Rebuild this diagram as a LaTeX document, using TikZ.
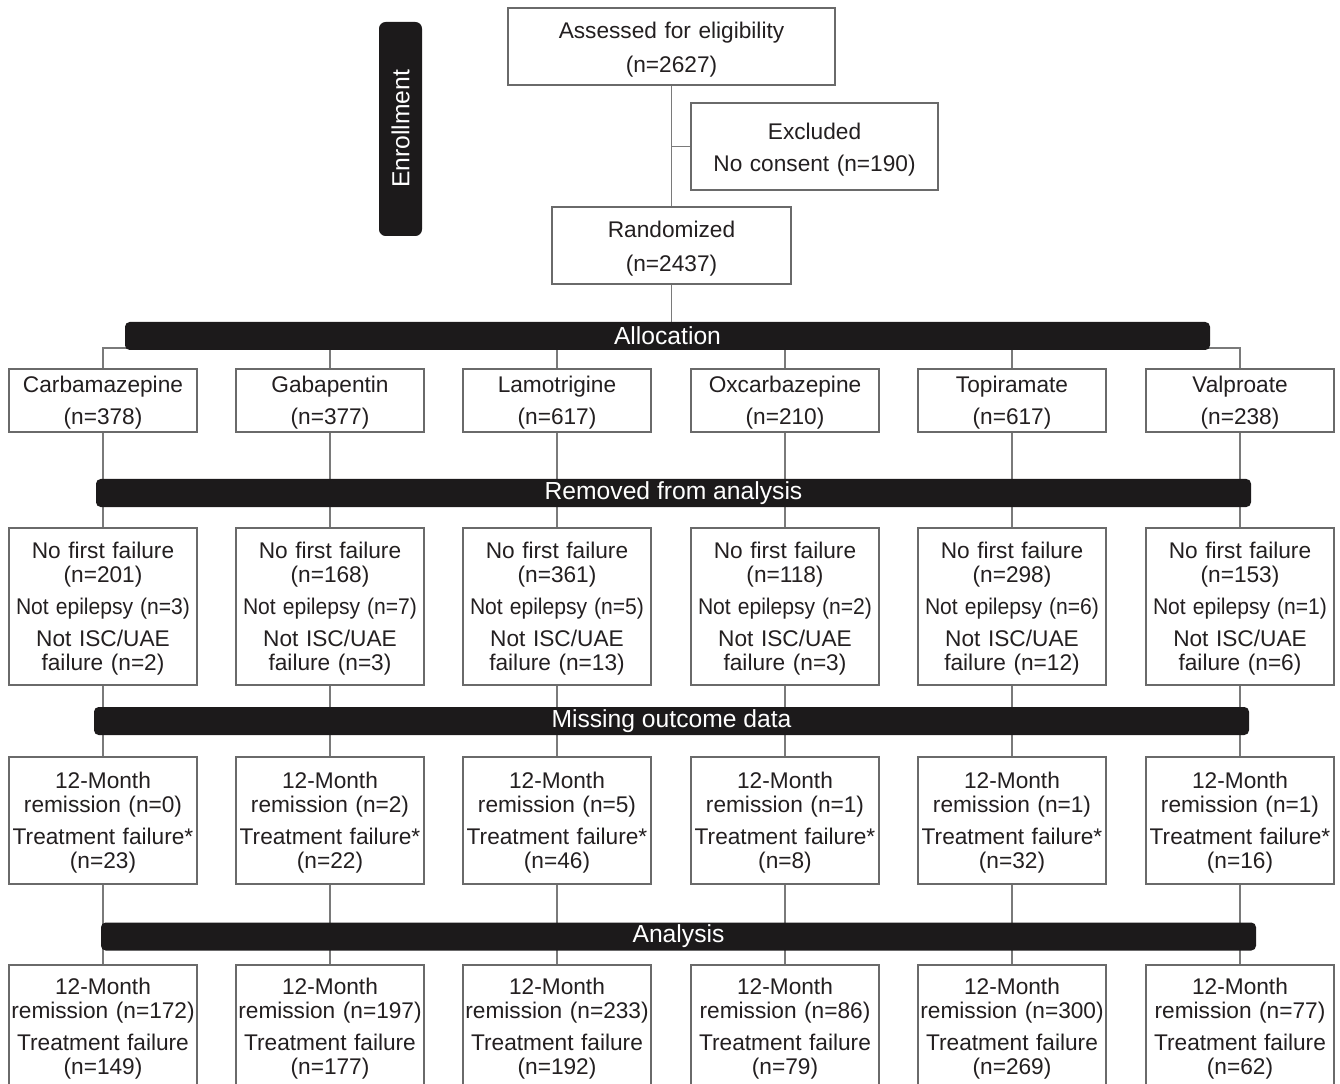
\documentclass[tikz,border=0pt]{standalone}
\usepackage{fontspec}
\setmainfont{Liberation Sans}
\definecolor{boxc}{HTML}{6A6A6A}
\definecolor{linec}{HTML}{7A7A7A}
\definecolor{barc}{HTML}{1C1A1B}
\definecolor{txtc}{HTML}{231F20}
\pgfdeclarelayer{bg}
\pgfsetlayers{bg,main}
\newcommand{\boxfont}{\fontsize{17}{18}\selectfont}
\newcommand{\barfont}{\fontsize{18.5}{20}\selectfont}
\newcommand{\nepi}[1]{\scalebox{0.93}[1]{Not epilepsy (n=#1)}}
\begin{document}
\begin{tikzpicture}[x=0.75pt,y=-0.75pt,
  box/.style={draw=boxc, line width=1pt, fill=white, inner sep=0pt, align=center,
    text width={188*0.75pt}, minimum width={188*0.75pt}, font=\boxfont, text=txtc,
    execute at begin node={\rule{0pt}{15.5pt}}},
  topbox/.style={draw=boxc, line width=1pt, fill=white, inner sep=0pt, align=center,
    font=\boxfont, text=txtc, execute at begin node={\rule{0pt}{17pt}}},
  bar/.style={fill=barc, rounded corners=3.5pt, inner sep=0pt, text=white,
    font=\barfont, minimum height={28*0.75pt}},
  conn/.style={draw=linec, line width=0.8pt}]
\useasboundingbox (0,0) rectangle (1340,1084);

% Enrollment
\node[fill=barc, rounded corners=5pt, minimum width={214*0.75pt}, minimum height={43*0.75pt},
  rotate=90, text=white, font=\barfont, inner sep=0pt] (enrol) at (400.5,129) {Enrollment};

% top boxes
\node[topbox, text width={327*0.75pt}, minimum width={327*0.75pt}, minimum height={77*0.75pt}] (assess) at (671.5,46.5)
  {Assessed for eligibility\\[7pt](n=2627)};
\node[topbox, text width={247*0.75pt}, minimum width={247*0.75pt}, minimum height={87*0.75pt}] (excl) at (814.5,146.5)
  {Excluded\\[6pt]No consent (n=190)};
\node[topbox, text width={239*0.75pt}, minimum width={239*0.75pt}, minimum height={77*0.75pt}] (rand) at (671.5,245.5)
  {Randomized\\[7pt](n=2437)};

% bars
\node[bar, minimum width={1085*0.75pt}] (alloc) at (667.5,336) {Allocation};
\node[bar, minimum width={1155*0.75pt}] (remov) at (673.5,493) {Removed from analysis};
\node[bar, minimum width={1155*0.75pt}] (miss) at (671.5,721) {Missing outcome data};
\node[bar, minimum width={1155*0.75pt}] (anal) at (678.5,936.5) {Analysis};

% row 1
\foreach \n/\x/\name/\num in {a/103/Carbamazepine/378, b/330/Gabapentin/377, c/557/Lamotrigine/617,
  d/785/Oxcarbazepine/210, e/1012/Topiramate/617, f/1240/Valproate/238}{
  \node[box, minimum height={63*0.75pt}] (r1\n) at (\x,400.5) {\name\\[6pt](n=\num)};
}

% row 2
\foreach \n/\x/\a/\b/\c in {a/103/201/3/2, b/330/168/7/3, c/557/361/5/13,
  d/785/118/2/3, e/1012/298/6/12, f/1240/153/1/6}{
  \node[box, minimum height={157*0.75pt}] (r2\n) at (\x,606.5)
    {No first failure\\(n=\a)\\[6pt]\nepi{\b}\\[6pt]Not ISC/UAE\\failure (n=\c)};
}

% row 3
\foreach \n/\x/\a/\b in {a/103/0/23, b/330/2/22, c/557/5/46,
  d/785/1/8, e/1012/1/32, f/1240/1/16}{
  \node[box, minimum height={127*0.75pt}] (r3\n) at (\x,820.5)
    {12-Month\\remission (n=\a)\\[6pt]Treatment failure*\\(n=\b)};
}

% row 4
\foreach \n/\x/\a/\b in {a/103/172/149, b/330/197/177, c/557/233/192,
  d/785/86/79, e/1012/300/269, f/1240/77/62}{
  \node[box, minimum height={124*0.75pt}] (r4\n) at (\x,1027)
    {12-Month\\remission (n=\a)\\[6pt]Treatment failure\\(n=\b)};
}

\coordinate (hl) at (0,348);

\begin{pgfonlayer}{bg}
  \draw[conn] (assess.south) -- (rand.north);
  \draw[conn] (excl.west) -- (excl.west -| assess.south);
  \draw[conn] (rand.south) -- (rand.south |- alloc.center);
  \draw[conn] (r1a.north) -- (r1a.north |- hl) -- (r1f.north |- hl) -- (r1f.north);
  \foreach \n in {b,c,d,e}{
    \draw[conn] (r1\n.north) -- (r1\n.north |- alloc.center);
  }
  \foreach \n in {a,b,c,d,e,f}{
    \draw[conn] (r1\n.south) -- (r2\n.north);
    \draw[conn] (r2\n.south) -- (r3\n.north);
    \draw[conn] (r3\n.south) -- (r4\n.north);
  }
\end{pgfonlayer}
\end{tikzpicture}
\end{document}
